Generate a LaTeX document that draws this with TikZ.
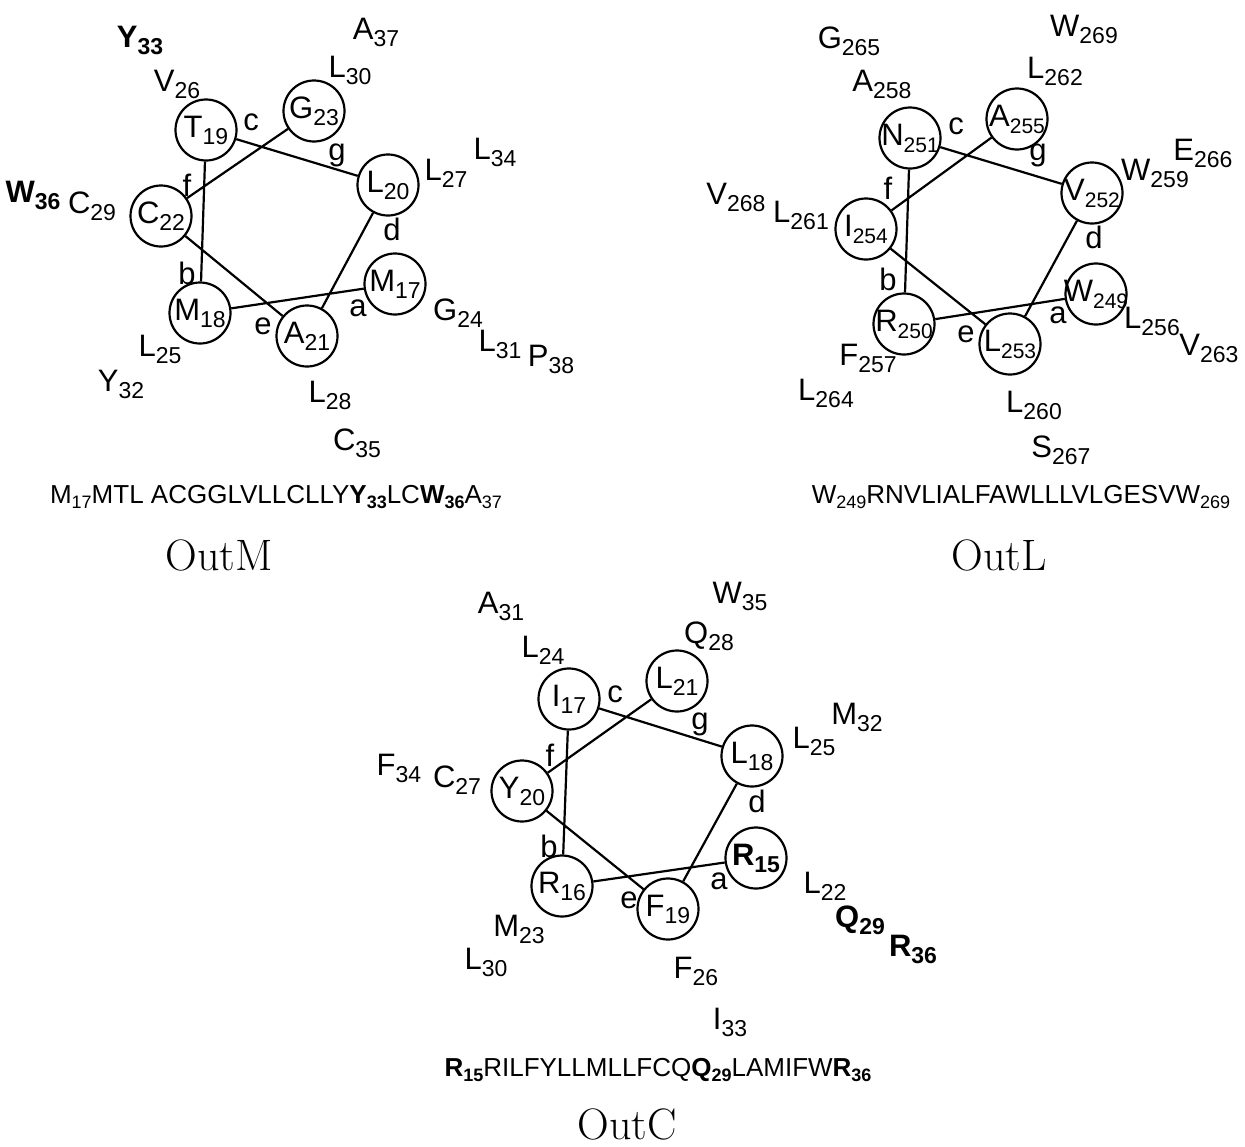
\documentclass[tikz,border=0pt]{standalone}
\usepackage{fontspec}
\newfontfamily\arialf{Liberation Sans}
\newcommand\rs[2]{#1\raisebox{-7pt}{\fontsize{23}{23}\selectfont #2}}
\newcommand\rsn[2]{#1\raisebox{-7pt}{\fontsize{21}{21}\selectfont #2}}
\newcommand\rsb[2]{\textbf{#1\raisebox{-7pt}{\fontsize{23}{23}\selectfont\bfseries #2}}}
\newcommand\sq[2]{#1\raisebox{-5pt}{\fontsize{18}{18}\selectfont #2}}
\newcommand\sqb[2]{\textbf{#1\raisebox{-5pt}{\fontsize{18}{18}\selectfont\bfseries #2}}}
\tikzset{
  res/.style={circle, draw, line width=2.2pt, minimum size=61pt, inner sep=0pt},
  lab/.style={inner sep=0pt},
  conn/.style={line width=2.2pt},
  seqtxt/.style={inner sep=0pt, font=\arialf\fontsize{26}{30}\selectfont},
  title/.style={inner sep=0pt, font=\fontsize{44}{50}\selectfont},
}
\begin{document}
\begin{tikzpicture}[x=1pt, y=-1pt, font=\arialf\fontsize{31}{36}\selectfont]
\useasboundingbox (0,0) rectangle (1245,1146);
% ---------------- OutM ----------------
\node[res] (m17) at (395,284) {\makebox[0pt]{\rs{M}{17}}};
\node[res] (m18) at (200,313) {\makebox[0pt]{\rs{M}{18}}};
\node[res] (t19) at (206,130) {\makebox[0pt]{\rs{T}{19}}};
\node[res] (l20) at (388,185) {\makebox[0pt]{\rs{L}{20}}};
\node[res] (a21) at (307,336) {\makebox[0pt]{\rs{A}{21}}};
\node[res] (c22) at (161,216) {\makebox[0pt]{\rs{C}{22}}};
\node[res] (g23) at (314,111) {\makebox[0pt]{\rs{G}{23}}};
\draw[conn] (m17) -- (m18) -- (t19) -- (l20) -- (a21) -- (c22) -- (g23);
\node[lab] (mc) at (251,122) {c};
\node[lab] (mg) at (337,155) {g};
\node[lab] (mf) at (187,185) {f};
\node[lab] (md) at (392,229) {d};
\node[lab] (mb) at (187,273) {b};
\node[lab] (me) at (263,326) {e};
\node[lab] (ma) at (358,308) {a};
\node[lab] (my33) at (140,40) {\rsb{Y}{33}};
\node[lab] (ma37) at (376,32) {\rs{A}{37}};
\node[lab] (mv26) at (177,84) {\rs{V}{26}};
\node[lab] (ml30) at (350,70) {\rs{L}{30}};
\node[lab] (ml34) at (495,152) {\rs{L}{34}};
\node[lab] (ml27) at (446,173) {\rs{L}{27}};
\node[lab] (mw36) at (33,195) {\rsb{W}{36}};
\node[lab] (mc29) at (92,206) {\rs{C}{29}};
\node[lab] (mg24) at (458,313) {\rs{G}{24}};
\node[lab] (ml31) at (500,344) {\rs{L}{31}};
\node[lab] (mp38) at (551,359) {\rs{P}{38}};
\node[lab] (ml25) at (160,349) {\rs{L}{25}};
\node[lab] (my32) at (121,384) {\rs{Y}{32}};
\node[lab] (ml28) at (330,395) {\rs{L}{28}};
\node[lab] (mc35) at (357,443) {\rs{C}{35}};
\node[seqtxt] (mseq) at (276,497) {\sq{M}{17}MTL ACGGLVLLCLLY\sqb{Y}{33}LC\sqb{W}{36}\sq{A}{37}};
\node[title] (mtitle) at (219,555) {OutM};
% ---------------- OutL ----------------
\node[res] (w249) at (1096,294) {\makebox[0pt]{\rsn{W}{249}}};
\node[res] (r250) at (904,324) {\makebox[0pt]{\rsn{R}{250}}};
\node[res] (n251) at (910,138) {\makebox[0pt]{\rsn{N}{251}}};
\node[res] (v252) at (1092,193) {\makebox[0pt]{\rsn{V}{252}}};
\node[res] (l253) at (1010,344) {\makebox[0pt]{\rsn{L}{253}}};
\node[res] (i254) at (866,229) {\makebox[0pt]{\rsn{I}{254}}};
\node[res] (a255) at (1017,119) {\makebox[0pt]{\rsn{A}{255}}};
\draw[conn] (w249) -- (r250) -- (n251) -- (v252) -- (l253) -- (i254) -- (a255);
\node[lab] (lc) at (956,126) {c};
\node[lab] (lg) at (1038,155) {g};
\node[lab] (lf) at (888,188) {f};
\node[lab] (ld) at (1094,237) {d};
\node[lab] (lb) at (888,279) {b};
\node[lab] (le) at (966,334) {e};
\node[lab] (la) at (1058,315) {a};
\node[lab] (lg265) at (849,41) {\rs{G}{265}};
\node[lab] (lw269) at (1084,29) {\rs{W}{269}};
\node[lab] (la258) at (882,84) {\rs{A}{258}};
\node[lab] (ll262) at (1055,71) {\rs{L}{262}};
\node[lab] (le266) at (1203,153) {\rs{E}{266}};
\node[lab] (lw259) at (1155,173) {\rs{W}{259}};
\node[lab] (lv268) at (736,197) {\rs{V}{268}};
\node[lab] (ll261) at (801,215) {\rs{L}{261}};
\node[lab] (ll256) at (1152,321) {\rs{L}{256}};
\node[lab] (lv263) at (1209,348) {\rs{V}{263}};
\node[lab] (lf257) at (868,358) {\rs{F}{257}};
\node[lab] (ll264) at (826,393) {\rs{L}{264}};
\node[lab] (ll260) at (1034,405) {\rs{L}{260}};
\node[lab] (ls267) at (1061,450) {\rs{S}{267}};
\node[seqtxt] (lseq) at (1021,497) {\sq{W}{249}RNVLIALFAWLLLVLGESV\sq{W}{269}};
\node[title] (ltitle) at (999,555) {OutL};
% ---------------- OutC ----------------
\node[res] (r15) at (756,858) {\makebox[0pt]{\rsb{R}{15}}};
\node[res] (r16) at (562,886) {\makebox[0pt]{\rs{R}{16}}};
\node[res] (i17) at (569,699) {\makebox[0pt]{\rs{I}{17}}};
\node[res] (l18) at (752,756) {\makebox[0pt]{\rs{L}{18}}};
\node[res] (f19) at (668,909) {\makebox[0pt]{\rs{F}{19}}};
\node[res] (y20) at (522,791) {\makebox[0pt]{\rs{Y}{20}}};
\node[res] (l21) at (677,681) {\makebox[0pt]{\rs{L}{21}}};
\draw[conn] (r15) -- (r16) -- (i17) -- (l18) -- (f19) -- (y20) -- (l21);
\node[lab] (cc) at (615,694) {c};
\node[lab] (cg) at (700,724) {g};
\node[lab] (cf) at (550,755) {f};
\node[lab] (cd) at (757,801) {d};
\node[lab] (cb) at (549,846) {b};
\node[lab] (ce) at (629,900) {e};
\node[lab] (ca) at (719,881) {a};
\node[lab] (ca31) at (501,606) {\rs{A}{31}};
\node[lab] (cw35) at (740,596) {\rs{W}{35}};
\node[lab] (cl24) at (543,650) {\rs{L}{24}};
\node[lab] (cq28) at (709,636) {\rs{Q}{28}};
\node[lab] (cm32) at (857,717) {\rs{M}{32}};
\node[lab] (cl25) at (814,741) {\rs{L}{25}};
\node[lab] (cf34) at (399,768) {\rs{F}{34}};
\node[lab] (cc27) at (457,780) {\rs{C}{27}};
\node[lab] (cl22) at (825,886) {\rs{L}{22}};
\node[lab] (cq29) at (860,920) {\rsb{Q}{29}};
\node[lab] (cr36) at (913,949) {\rsb{R}{36}};
\node[lab] (cm23) at (519,929) {\rs{M}{23}};
\node[lab] (cl30) at (486,962) {\rs{L}{30}};
\node[lab] (cf26) at (696,971) {\rs{F}{26}};
\node[lab] (ci33) at (730,1022) {\rs{I}{33}};
\node[seqtxt] (cseq) at (658,1070) {\sqb{R}{15}RILFYLLMLLFCQ\sqb{Q}{29}LAMIFW\sqb{R}{36}};
\node[title] (ctitle) at (627,1124) {OutC};
\end{tikzpicture}
\end{document}
